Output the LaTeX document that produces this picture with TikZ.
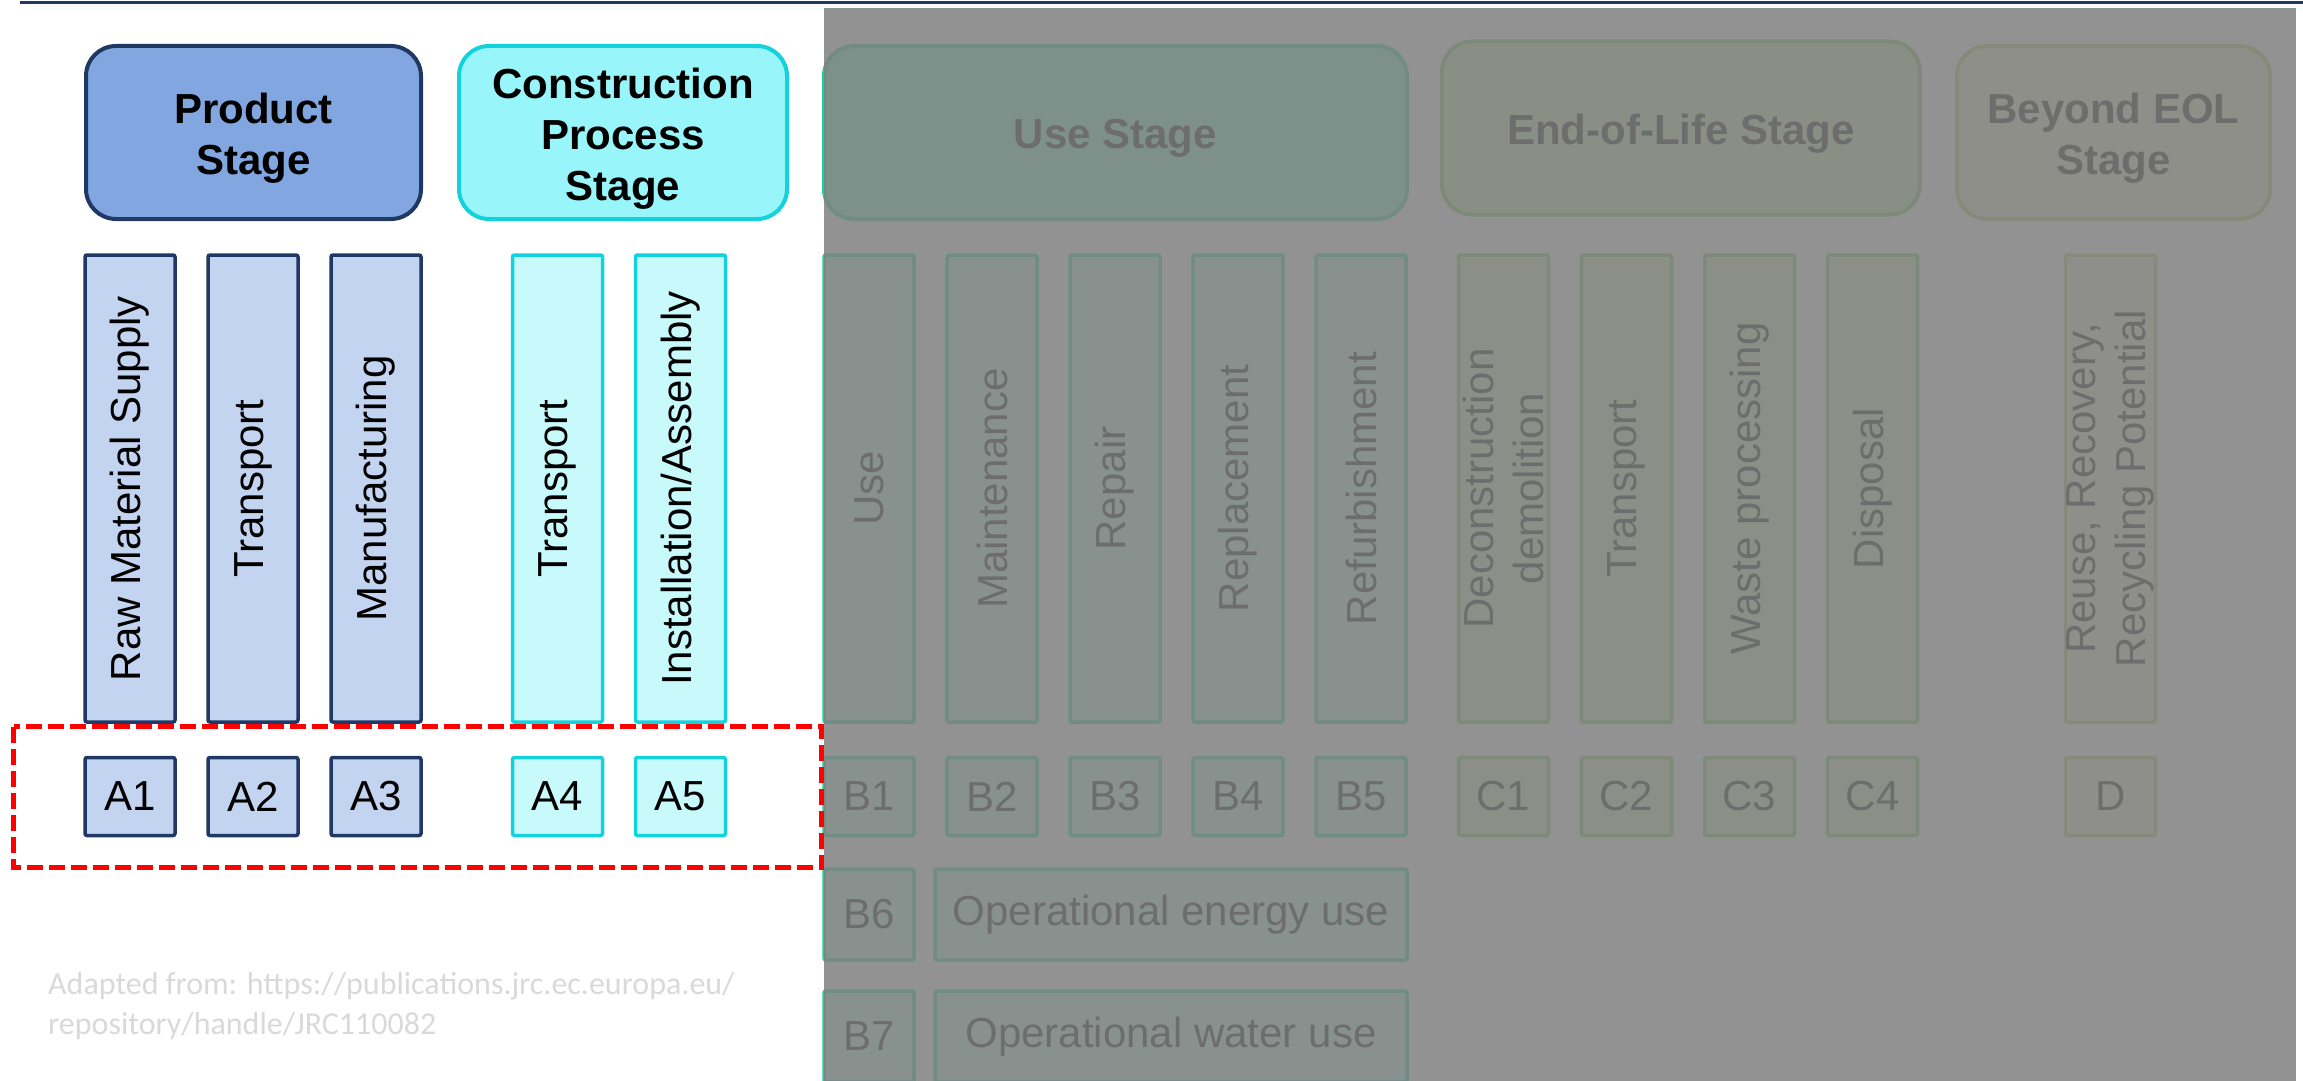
\documentclass[tikz,border=0pt]{standalone}
\usepackage{fontspec}
\setmainfont{Liberation Sans}
\newfontfamily\creditfont{Carlito}
\usetikzlibrary{positioning}

\definecolor{navy}{HTML}{1F3864}
\definecolor{prodfill}{HTML}{82A7E0}
\definecolor{prodcol}{HTML}{C3D4F0}
\definecolor{consline}{HTML}{14D2DC}
\definecolor{consfill}{HTML}{98F5F9}
\definecolor{conscol}{HTML}{C8FAFB}
\definecolor{useline}{HTML}{14D49A}
\definecolor{usefill}{HTML}{79EFC5}
\definecolor{usecol}{HTML}{BAF8E4}
\definecolor{eolline}{HTML}{70C850}
\definecolor{eolfill}{HTML}{C5E8AA}
\definecolor{eolcol}{HTML}{CFEABA}
\definecolor{beyline}{HTML}{B4C85A}
\definecolor{beyfill}{HTML}{E1E8BE}
\definecolor{beycol}{HTML}{E6EDC8}
\definecolor{credit}{HTML}{D9D9D9}

\begin{document}
\begin{tikzpicture}[x=1pt, y=-1pt, node distance={123pt},
  stage/.style = {draw, line width=4pt, rounded corners=30pt, minimum height=173pt},
  stagetext/.style = {font=\fontsize{42}{51}\selectfont\bfseries, align=center, yshift=-6pt},
  phase/.style = {draw, line width=3.5pt, rounded corners=2pt, minimum width=90pt, minimum height=467pt},
  phasetext/.style = {font=\fontsize{42}{50}\selectfont, align=center, rotate=90},
  module/.style = {draw, line width=3.5pt, rounded corners=2pt, minimum width=90pt, minimum height=78pt, inner sep=0pt, font=\fontsize{42}{50}\selectfont},
  prod/.style = {draw=navy, fill=prodcol},
  cons/.style = {draw=consline, fill=conscol},
  use/.style = {draw=useline, fill=usecol},
  eol/.style = {draw=eolline, fill=eolcol},
  bey/.style = {draw=beyline, fill=beycol}]
\useasboundingbox (0,0) rectangle (2303,1081);
\clip (0,0) rectangle (2303,1081);

% stage headers
\node[stage, prod, fill=prodfill, minimum width=335pt] (ps) at (253.5,132.5) {};
\node[stage, cons, fill=consfill, minimum width=328pt] (cs) at (623,132.5) {};
\node[stage, use, fill=usefill, minimum width=583pt] (us) at (1115.5,132.5) {};
\node[stage, eol, fill=eolfill, minimum width=478pt] (es) at (1681,128) {};
\node[stage, bey, fill=beyfill, minimum width=313pt] (bs) at (2113.5,132.5) {};

\node[stagetext] (pst) at (ps) {Product\\Stage};
\node[stagetext] (cst) at (cs) {Construction\\Process\\Stage};
\node[stagetext] (ust) at (us) {Use Stage};
\node[stagetext] (est) at (es) {End-of-Life Stage};
\node[stagetext] (bst) at (bs) {Beyond EOL\\Stage};

% process columns
\node[phase, prod] (a1) at (130,488.5) {};
\node[phase, prod] (a2) [right of=a1] {};
\node[phase, prod] (a3) [right of=a2] {};
\node[phase, cons] (a4) [node distance=181.5pt, right of=a3] {};
\node[phase, cons] (a5) [right of=a4] {};

\node[phase, use] (b1) at (869,488.5) {};
\node[phase, use] (b2) [right of=b1] {};
\node[phase, use] (b3) [right of=b2] {};
\node[phase, use] (b4) [right of=b3] {};
\node[phase, use] (b5) [right of=b4] {};

\node[phase, eol] (c1) [node distance=142.5pt, right of=b5] {};
\node[phase, eol] (c2) [right of=c1] {};
\node[phase, eol] (c3) [right of=c2] {};
\node[phase, eol] (c4) [right of=c3] {};

\node[phase, bey] (d) [node distance=238pt, right of=c4] {};

\node[phasetext] (a1t) at (a1) {Raw Material Supply};
\node[phasetext] (a2t) at (a2) {Transport};
\node[phasetext] (a3t) at (a3) {Manufacturing};
\node[phasetext] (a4t) at (a4) {Transport};
\node[phasetext] (a5t) at (a5) {Installation/Assembly};
\node[phasetext] (b1t) at (b1) {Use};
\node[phasetext] (b2t) at (b2) {Maintenance};
\node[phasetext] (b3t) at (b3) {Repair};
\node[phasetext] (b4t) at (b4) {Replacement};
\node[phasetext] (b5t) at (b5) {Refurbishment};
\node[phasetext] (c1t) at (c1) {Deconstruction\\demolition};
\node[phasetext] (c2t) at (c2) {Transport};
\node[phasetext] (c3t) at (c3) {Waste processing};
\node[phasetext] (c4t) at (c4) {Disposal};
\node[phasetext] (dt) at (d) {Reuse, Recovery,\\Recycling Potential};

% module codes
\node[module, prod] (a1c) [node distance=308pt, below of=a1] {A1};
\node[module, prod] (a2c) [node distance=308pt, below of=a2] {A2};
\node[module, prod] (a3c) [node distance=308pt, below of=a3] {A3};
\node[module, cons] (a4c) [node distance=308pt, below of=a4] {A4};
\node[module, cons] (a5c) [node distance=308pt, below of=a5] {A5};
\node[module, use] (b1c) [node distance=308pt, below of=b1] {B1};
\node[module, use] (b2c) [node distance=308pt, below of=b2] {B2};
\node[module, use] (b3c) [node distance=308pt, below of=b3] {B3};
\node[module, use] (b4c) [node distance=308pt, below of=b4] {B4};
\node[module, use] (b5c) [node distance=308pt, below of=b5] {B5};
\node[module, eol] (c1c) [node distance=308pt, below of=c1] {C1};
\node[module, eol] (c2c) [node distance=308pt, below of=c2] {C2};
\node[module, eol] (c3c) [node distance=308pt, below of=c3] {C3};
\node[module, eol] (c4c) [node distance=308pt, below of=c4] {C4};
\node[module, bey] (dc) [node distance=308pt, below of=d] {D};

\node[module, use, minimum height=91pt] (b6) [node distance=118pt, below of=b1c] {B6};
\node[module, use, minimum height=91pt, minimum width=472pt] (b6e) [node distance=302pt, right of=b6] {Operational energy use};
\node[module, use, minimum height=91pt] (b7) [node distance=122pt, below of=b6] {B7};
\node[module, use, minimum height=91pt, minimum width=472pt] (b7w) [node distance=302pt, right of=b7] {Operational water use};

% shade over stages B to D
\fill[gray, opacity=0.855] (824,8) rectangle (2296,1081);

% A1-A5 highlight
\draw[red, line width=5pt, dash pattern=on 16pt off 6pt] (13.5,726.5) rectangle (821.5,867.5);

\draw[navy, line width=3pt] (20,3) -- (2303,3);

\node[font=\creditfont\fontsize{32}{40}\selectfont, text=credit, align=left, anchor=north west, inner sep=0pt] (src) at (48,972) {Adapted from: https://publications.jrc.ec.europa.eu/\\repository/handle/JRC110082};
\end{tikzpicture}
\end{document}
